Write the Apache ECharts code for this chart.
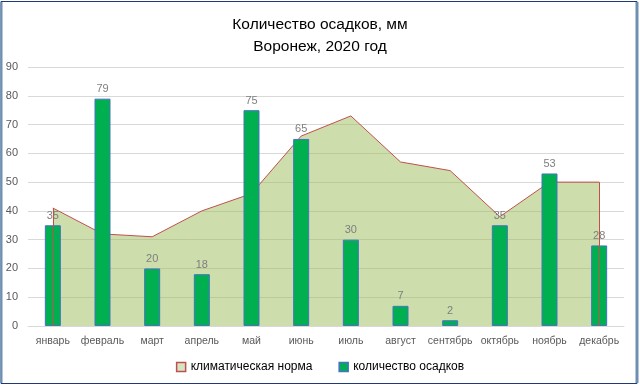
<!DOCTYPE html>
<html>
<head>
<meta charset="utf-8">
<script src="https://cdn.jsdelivr.net/npm/echarts@6/dist/echarts.min.js"></script>
<style>html,body{margin:0;padding:0;background:#fff;}#c{width:640px;height:387px;}</style>
</head>
<body>
<div id="c"></div>
<script>
const months = ['январь','февраль','март','апрель','май','июнь','июль','август','сентябрь','октябрь','ноябрь','декабрь'];
const normValues = [41, 32, 31, 40, 46, 66, 73, 57, 54, 38, 50, 50];
const precipValues = [35, 79, 20, 18, 75, 65, 30, 7, 2, 35, 53, 28];
const yTicks = [0, 10, 20, 30, 40, 50, 60, 70, 80, 90];

const FONT = '"Liberation Sans", "DejaVu Sans", sans-serif';
const chart = echarts.init(document.getElementById('c'), null, {renderer: 'canvas'});
const last = months.length - 1;
chart.setOption({
  animation: false,
  textStyle: {fontFamily: FONT},
  title: {
    text: 'Количество осадков, мм\nВоронеж, 2020 год',
    left: 'center', top: 9,
    textStyle: {fontSize: 15.5, fontWeight: 'normal', color: '#000', lineHeight: 22, fontFamily: FONT}
  },
  graphic: [
    {type: 'rect', shape: {x: 1, y: 1.5, width: 636, height: 382}, style: {fill: 'none', stroke: '#1f3a78', lineWidth: 1}, z: 100},
    {type: 'line', shape: {x1: 1.5, y1: 2, x2: 1.5, y2: 383}, style: {stroke: '#6d8fb3', lineWidth: 2}, z: 101},
    {type: 'line', shape: {x1: 637, y1: 2, x2: 637, y2: 383}, style: {stroke: '#6d8fb3', lineWidth: 3}, z: 101}
  ],
  legend: {
    bottom: 9, left: 'center', itemGap: 26, itemWidth: 9, itemHeight: 9,
    textStyle: {fontSize: 12, color: '#000', fontFamily: FONT},
    data: [
      {name: 'климатическая норма', icon: 'rect', itemStyle: {color: '#d5e4c4', borderColor: '#c0504d', borderWidth: 1.5}},
      {name: 'количество осадков', icon: 'rect', itemStyle: {color: '#00b050', borderColor: '#4472c4', borderWidth: 1.5}}
    ]
  },
  grid: {left: 28, right: 16, top: 67, bottom: 61},
  xAxis: {
    type: 'category', data: months, boundaryGap: true,
    axisLine: {lineStyle: {color: '#d9d9d9'}},
    axisTick: {show: false},
    axisLabel: {color: '#595959', fontSize: 10.5, margin: 10, interval: 0}
  },
  yAxis: {
    type: 'value', min: yTicks[0], max: yTicks[yTicks.length - 1], interval: 10,
    axisLine: {show: false}, axisTick: {show: false},
    axisLabel: {color: '#595959', fontSize: 11, margin: 10},
    splitLine: {lineStyle: {color: '#d9d9d9', width: 1}}
  },
  series: [
    {
      name: 'климатическая норма', type: 'line', data: normValues,
      symbol: 'none', z: 1,
      lineStyle: {color: '#c0504d', width: 1},
      itemStyle: {color: '#d5e4c4', borderColor: '#c0504d'},
      areaStyle: {color: 'rgba(155,187,89,0.5)', opacity: 1, origin: 'start'},
      markLine: {
        silent: true, symbol: 'none', label: {show: false},
        lineStyle: {color: '#c0504d', width: 1, type: 'solid'},
        data: [
          [{coord: [months[0], 0]}, {coord: [months[0], normValues[0]]}],
          [{coord: [months[last], 0]}, {coord: [months[last], normValues[last]]}]
        ]
      }
    },
    {
      name: 'количество осадков', type: 'bar', data: precipValues,
      barWidth: 16, z: 3,
      itemStyle: {color: '#00b050', borderColor: '#4472c4', borderWidth: 1},
      label: {show: true, position: 'top', color: '#7f7f7f', fontSize: 11, distance: 4}
    }
  ]
});
</script>
</body>
</html>
